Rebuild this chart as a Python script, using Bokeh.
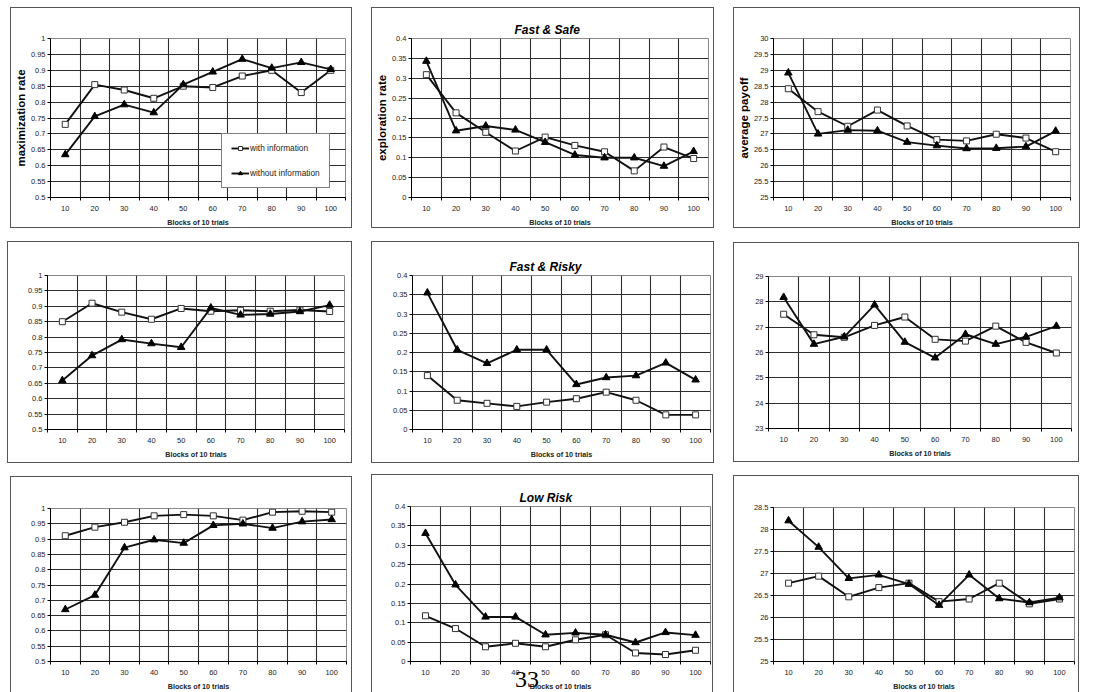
from bokeh.plotting import figure
from bokeh.models import FixedTicker, Legend, LegendItem, Div
from bokeh.layouts import row, column
from bokeh.embed import file_html
from bokeh.resources import INLINE

# ---------------- data ----------------
blocks = [10, 20, 30, 40, 50, 60, 70, 80, 90, 100]
block_labels = ["10", "20", "30", "40", "50", "60", "70", "80", "90", "100"]

series_names = ["with information", "without information"]

# Fast & Safe
fs_max_with    = [0.730, 0.855, 0.838, 0.812, 0.850, 0.846, 0.882, 0.900, 0.830, 0.900]
fs_max_without = [0.635, 0.755, 0.792, 0.767, 0.855, 0.895, 0.935, 0.907, 0.925, 0.903]
fs_exp_with    = [0.309, 0.213, 0.164, 0.117, 0.152, 0.131, 0.115, 0.067, 0.127, 0.098]
fs_exp_without = [0.343, 0.168, 0.180, 0.170, 0.139, 0.107, 0.100, 0.100, 0.079, 0.116]
fs_pay_with    = [28.42, 27.70, 27.24, 27.75, 27.25, 26.82, 26.78, 26.99, 26.87, 26.44]
fs_pay_without = [28.92, 27.00, 27.12, 27.10, 26.74, 26.63, 26.54, 26.55, 26.60, 27.09]

# Fast & Risky
fr_max_with    = [0.850, 0.910, 0.881, 0.858, 0.893, 0.884, 0.887, 0.884, 0.888, 0.883]
fr_max_without = [0.659, 0.740, 0.792, 0.779, 0.767, 0.895, 0.872, 0.875, 0.883, 0.904]
fr_exp_with    = [0.140, 0.076, 0.068, 0.060, 0.071, 0.080, 0.097, 0.076, 0.038, 0.038]
fr_exp_without = [0.355, 0.207, 0.172, 0.207, 0.207, 0.117, 0.135, 0.140, 0.173, 0.129]
fr_pay_with    = [27.51, 26.70, 26.60, 27.07, 27.40, 26.52, 26.45, 27.04, 26.40, 25.98]
fr_pay_without = [28.18, 26.33, 26.62, 27.88, 26.41, 25.79, 26.72, 26.33, 26.62, 27.04]

# Low Risk
lr_max_with    = [0.911, 0.939, 0.955, 0.976, 0.980, 0.976, 0.962, 0.988, 0.991, 0.988]
lr_max_without = [0.670, 0.717, 0.872, 0.898, 0.887, 0.945, 0.950, 0.936, 0.957, 0.964]
lr_exp_with    = [0.118, 0.085, 0.038, 0.047, 0.038, 0.056, 0.069, 0.022, 0.018, 0.029]
lr_exp_without = [0.331, 0.198, 0.115, 0.115, 0.069, 0.074, 0.069, 0.049, 0.075, 0.068]
lr_pay_with    = [26.78, 26.94, 26.47, 26.68, 26.78, 26.36, 26.42, 26.78, 26.31, 26.42]
lr_pay_without = [28.20, 27.60, 26.89, 26.97, 26.76, 26.28, 26.97, 26.43, 26.34, 26.45]

# tick values / labels
rate_ticks  = [0.5, 0.55, 0.6, 0.65, 0.7, 0.75, 0.8, 0.85, 0.9, 0.95, 1.0]
rate_labels = ["0.5", "0.55", "0.6", "0.65", "0.7", "0.75", "0.8", "0.85", "0.9", "0.95", "1"]
expl_ticks  = [0.0, 0.05, 0.1, 0.15, 0.2, 0.25, 0.3, 0.35, 0.4]
expl_labels = ["0", "0.05", "0.1", "0.15", "0.2", "0.25", "0.3", "0.35", "0.4"]
pay1_ticks  = [25.0, 25.5, 26.0, 26.5, 27.0, 27.5, 28.0, 28.5, 29.0, 29.5, 30.0]
pay1_labels = ["25", "25.5", "26", "26.5", "27", "27.5", "28", "28.5", "29", "29.5", "30"]
pay2_ticks  = [23.0, 24.0, 25.0, 26.0, 27.0, 28.0, 29.0]
pay2_labels = ["23", "24", "25", "26", "27", "28", "29"]
pay3_ticks  = [25.0, 25.5, 26.0, 26.5, 27.0, 27.5, 28.0, 28.5]
pay3_labels = ["25", "25.5", "26", "26.5", "27", "27.5", "28", "28.5"]

titles = ["Fast & Safe", "Fast & Risky", "Low Risk"]
y_titles = ["maximization rate", "exploration rate", "average payoff"]
x_title = "Blocks of 10 trials"
page_number = "33"

FONT = "Liberation Sans"
boundaries = [b - 5 for b in blocks] + [blocks[-1] + 5]


def make_panel(w, h, fl, ft, fr, fb, margin, yticks, ylabels, with_vals, without_vals,
               ylabel=None, title=None, title_offset=0, cut_bottom=False):
    p = figure(width=w, height=h, x_range=(5, 105), y_range=(yticks[0], yticks[-1]),
               output_backend="svg", toolbar_location=None,
               min_border_left=fl, min_border_top=ft, min_border_right=fr, min_border_bottom=fb,
               margin=margin)
    st = {"border": "1px solid #555", "box-sizing": "border-box"}
    if cut_bottom:
        st["border-bottom"] = "none"
    p.styles = st
    p.background_fill_color = "white"
    p.border_fill_color = "white"
    p.outline_line_color = "#888888"
    p.outline_line_width = 1

    if title:
        p.title.text = title
        p.title.text_font = FONT
        p.title.text_font_size = "12px"
        p.title.text_font_style = "bold italic"
        p.title.text_color = "black"
        p.title.align = "left"
        p.title.offset = title_offset
        p.title.standoff = 4

    xa = p.xaxis[0]
    xa.ticker = FixedTicker(ticks=blocks, minor_ticks=boundaries)
    xa.major_label_overrides = dict(zip(blocks, block_labels))
    xa.major_tick_out = 0
    xa.major_tick_in = 0
    xa.minor_tick_out = 3
    xa.minor_tick_in = 0
    xa.major_label_standoff = 5
    xa.major_label_text_font = FONT
    xa.major_label_text_font_size = "7.5px"
    xa.major_label_text_color = "#222222"
    xa.axis_label = x_title
    xa.axis_label_text_font = FONT
    xa.axis_label_text_font_size = "7.2px"
    xa.axis_label_text_font_style = "bold"
    xa.axis_label_text_color = "#222222"
    xa.axis_label_standoff = 4
    xa.axis_line_color = "black"
    xa.minor_tick_line_color = "black"

    ya = p.yaxis[0]
    ya.ticker = FixedTicker(ticks=yticks)
    ya.major_label_overrides = dict(zip(yticks, ylabels))
    ya.major_tick_out = 3
    ya.major_tick_in = 0
    ya.minor_tick_out = 0
    ya.minor_tick_in = 0
    ya.major_label_standoff = 2
    ya.major_label_text_font = FONT
    ya.major_label_text_font_size = "7.5px"
    ya.major_label_text_color = "#222222"
    ya.axis_line_color = "black"
    if ylabel:
        ya.axis_label = ylabel
        ya.axis_label_text_font = FONT
        ya.axis_label_text_font_size = "11.5px"
        ya.axis_label_text_font_style = "bold"
        ya.axis_label_text_color = "black"
        ya.axis_label_standoff = 1

    p.xgrid.ticker = FixedTicker(ticks=boundaries)
    for g in (p.xgrid[0], p.ygrid[0]):
        g.grid_line_color = "#2e2e2e"
        g.grid_line_width = 1.1

    l1 = p.line(blocks, with_vals, line_color="#111111", line_width=1.9)
    s1 = p.scatter(blocks, with_vals, marker="square", size=6, fill_color="white",
                   line_color="#333333", line_width=1)
    l2 = p.line(blocks, without_vals, line_color="#111111", line_width=1.9)
    s2 = p.scatter(blocks, without_vals, marker="triangle", size=7.5, fill_color="black",
                   line_color="black")
    return p, (l1, s1), (l2, s2)


# Row 1
p1, r1a, r1b = make_panel(342, 221, 35, 30, 8, 31, (7, 0, 0, 10), rate_ticks, rate_labels,
                          fs_max_with, fs_max_without, ylabel=y_titles[0])
p2, _, _ = make_panel(343, 221, 38, 27, 7, 31, (7, 0, 0, 19), expl_ticks, expl_labels,
                      fs_exp_with, fs_exp_without, ylabel=y_titles[1], title=titles[0], title_offset=103)
p3, _, _ = make_panel(347, 221, 36, 20, 11, 32, (7, 0, 0, 19), pay1_ticks, pay1_labels,
                      fs_pay_with, fs_pay_without, ylabel=y_titles[2])

legend = Legend(items=[LegendItem(label=series_names[0], renderers=list(r1a)),
                       LegendItem(label=series_names[1], renderers=list(r1b))],
                location=(171, 9))
legend.border_line_color = "black"
legend.border_line_width = 1
legend.background_fill_color = "white"
legend.background_fill_alpha = 1
legend.label_text_font = FONT
legend.label_text_font_size = "8.3px"
legend.label_text_color = "#222222"
legend.glyph_width = 18
legend.glyph_height = 10
legend.label_height = 10
legend.label_standoff = 1
legend.spacing = 15
legend.padding = 9
legend.margin = 0
p1.add_layout(legend)

# Row 2
p4, _, _ = make_panel(345, 222, 39, 30, 9, 35, (13, 0, 0, 7), rate_ticks, rate_labels,
                      fr_max_with, fr_max_without)
p5, _, _ = make_panel(343, 222, 40, 33, 5, 31, (13, 0, 0, 19), expl_ticks, expl_labels,
                      fr_exp_with, fr_exp_without, title=titles[1], title_offset=97)
p6, _, _ = make_panel(346, 220, 34, 19, 9, 32, (14, 0, 0, 19), pay2_ticks, pay2_labels,
                      fr_pay_with, fr_pay_without)

# Row 3 (boxes run past the bottom edge of the page)
p7, _, _ = make_panel(342, 216, 39, 28, 7, 24, (13, 0, 0, 10), rate_ticks, rate_labels,
                      lr_max_with, lr_max_without, cut_bottom=True)
p8, _, _ = make_panel(342, 218, 38, 31, 4, 28, (11, 0, 0, 19), expl_ticks, expl_labels,
                      lr_exp_with, lr_exp_without, title=titles[2], title_offset=109, cut_bottom=True)
p9, _, _ = make_panel(346, 217, 39, 21, 6, 28, (12, 0, 0, 20), pay3_ticks, pay3_labels,
                      lr_pay_with, lr_pay_without, cut_bottom=True)

# page number printed over the bottom-centre panel
page_div = Div(text=page_number, width=26, height=24, margin=(-25, 0, 0, 515),
               styles={"position": "relative", "z-index": "10",
                       "font-family": "Liberation Serif", "font-size": "24px",
                       "line-height": "24px", "color": "black"})

layout = column(row(p1, p2, p3), row(p4, p5, p6), row(p7, p8, p9), page_div)
open("out.html", "w").write(file_html(layout, INLINE))
